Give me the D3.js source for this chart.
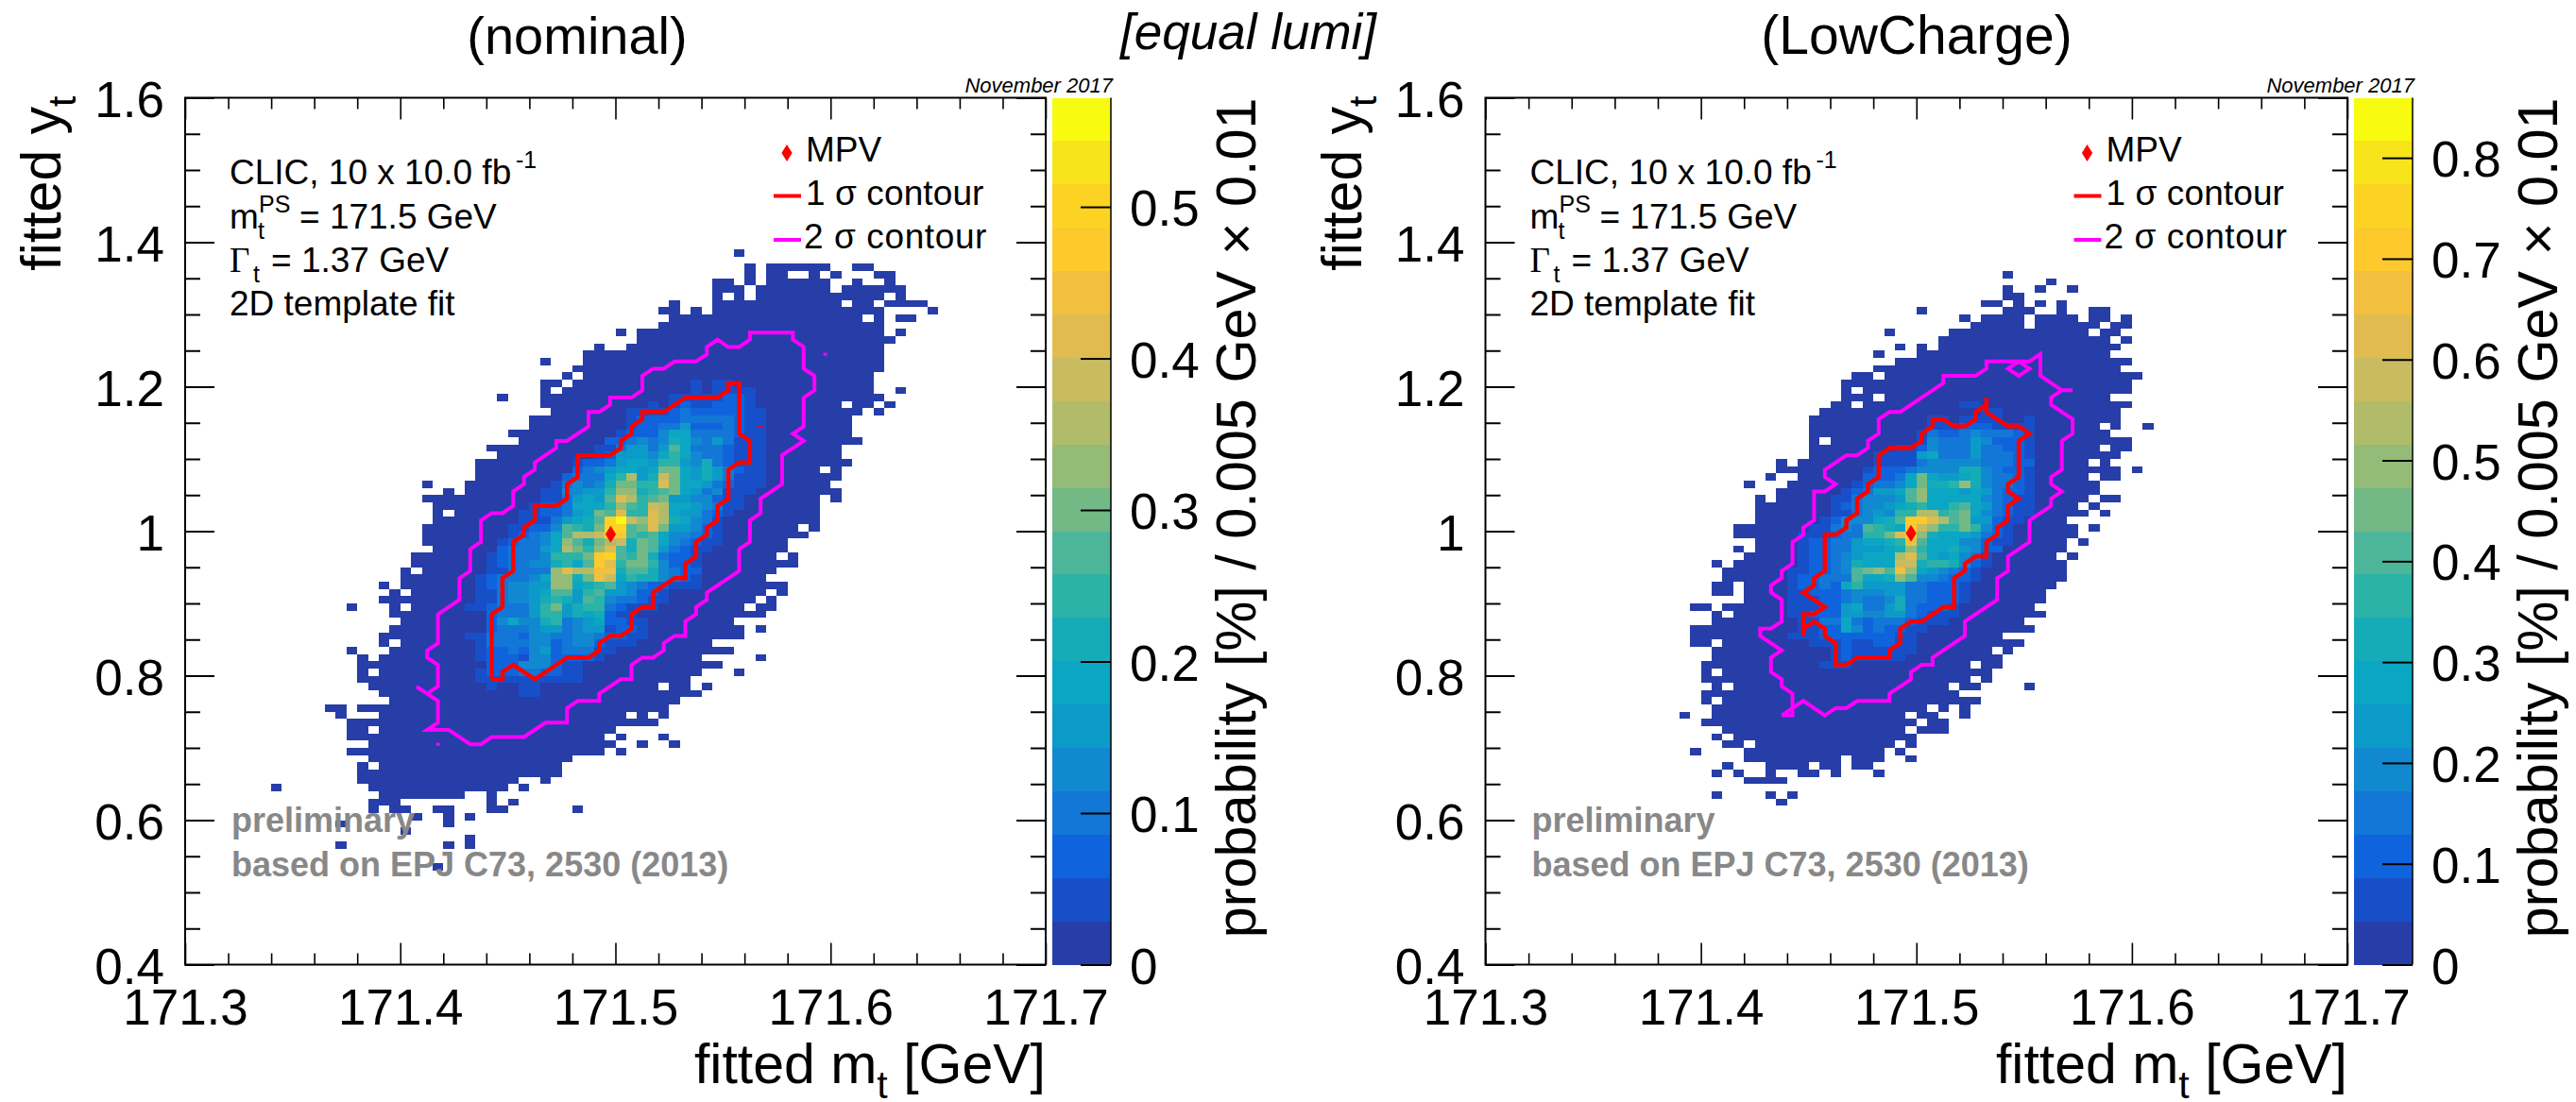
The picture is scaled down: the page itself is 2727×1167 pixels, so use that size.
<!DOCTYPE html>
<html><head><meta charset="utf-8">
<script src="https://cdn.jsdelivr.net/npm/d3@7/dist/d3.min.js"></script>
<style>
html,body{margin:0;padding:0;background:#fff}
svg{display:block}
text{font-family:"Liberation Sans",Arial,sans-serif;fill:#000}
</style></head><body>
<script>
// ---- axis values ----
const massRange=[171.3,171.7], yukawaRange=[0.4,1.6];
const massTicks=[171.3,171.4,171.5,171.6,171.7];
const massMinor=[171.32,171.34,171.36,171.38,171.42,171.44,171.46,171.48,171.52,171.54,171.56,171.58,171.62,171.64,171.66,171.68];
const yukawaTicks=[0.4,0.6,0.8,1,1.2,1.4,1.6];
const yukawaMinor=[0.45,0.5,0.55,0.65,0.7,0.75,0.85,0.9,0.95,1.05,1.1,1.15,1.25,1.3,1.35,1.45,1.5,1.55];
const binMass=0.005, binYukawa=0.01;
const zMaxNominal=0.572, zMaxLowCharge=0.8596;
const zTicksNominal=[0,0.1,0.2,0.3,0.4,0.5];
const zTicksLowCharge=[0,0.1,0.2,0.3,0.4,0.5,0.6,0.7,0.8];
const palette=["#273da7","#174fc8","#0f64dd","#1277d6","#1189d0","#0c9bc8","#0ba6c4","#15acb8","#2bb3a8","#4db59a","#72b986","#94bb77","#b1bc6a","#c9bb5f","#e0bc50","#f2c03e","#fdc92c","#fcd322","#f8e41a","#f8fb10"];
const mpvNominal=[171.4978,0.9958], mpvLowCharge=[171.4975,0.997];

// ---- histogram: "yBin:xBin-xBin,..." filled bins of the lowest colour level ----
const nominalFilled=["98:51","96:52,54-59,62-63","95:52,54-55,58,60,64-65","94:49-50,52,54-59,62,65","93:49-51,53-59,61-66","92:49,51,53-64,66","91:45,49-60,62-63,65-68","90:44-45,47,49-64,69","89:45-62,64,66-67","88:44-64","87:40,42-64,66","86:42-65","85:38,41-64","84:37-64","83:33,37-64","82:36-64","81:35,37-63","80:33-34,36-63","79:33,35-63,66","78:29,33-64","77:33-60,62-63,65","76:34-62,64","75:32-61","74:32-61","73:30-61","72:31-62","71:28-60","70:29-60","69:27-61","68:27-58,60","67:27-60","66:22,26-59","65:24,26-60","64:22-58,60","63:23-58","62:23,25-58","61:23-58","60:22-56,58","59:22-57","58:22-55","57:23-55","56:21-54,56","55:21-56","54:20,22-54","53:20-53","52:18,20-55","51:19,21-53,55","50:18-52,54","49:15,19,21-51,53-54","48:19-53","47:20-50","46:19-51,53","45:18-51","44:18,20-48","43:15,19-50","42:16,18-47,53","41:16-49","40:16,18-47,51","39:16-46","38:17-43,45-46,48","37:18-47","36:19-45","35:13-14,16-44","34:14,18-40,42,44","33:15-43","32:15-16,18-39","31:15-38,40,44","30:17-39,42,45","29:15-38,40","28:17-35","27:16,18-34","26:16-34","25:16-30,33","24:8,17-29,31","23:18-25,28","22:17-19,28,30","21:17,19-20,23-24,28-29,36","20:21,24,26","19:14,24","18:20","17:26","16:14,24,26","13:23"];
const lowChargeFilled=["95:48","94:52","93:48,51,54","92:48-49","91:46-47,49,51,53","90:40,48-50,53,56-57","89:44,46-49,51-54,56-57,59","88:45-49,51-56,58-59","87:37,43-55,57-58","86:42-57,59","85:38,40,42-58","84:36,40-57","83:38-59","82:36-58","81:34-35,37-60","80:33-59","79:33,35-59","78:33-35,37-57","77:32-33,35-59","76:31-58","75:30-58","74:30-56,58,61","73:30-57","72:30,32-59","71:30-56,58-59","70:30-58","69:27,29-55,57","68:27-58,60","67:26,29-55,57-58","66:24,28-56","65:27-56","64:25,27-55,57-58","63:25-54,56","62:25-55,57","61:25-53","60:23-54,56","59:23-54","58:25-53,55","57:23,25-53","56:24-52,54","55:21,23-53","54:22-53","53:22-53","52:21-22,24-52","51:21-22,24-51","50:24-51","49:19-20,22-50","48:21,23-51","47:21-49","46:19-50","45:19-47","44:19-20,22-49","43:21-46,48","42:21-47","41:20-44,46-47","40:20,22-46","39:20-44,46","38:21,23-42,44-45,50","37:20-43","36:20,22-45","35:21-40,42,44","34:18,21-38,40-41,44","33:20-39,41-42","32:22-38,40-42","31:21,23-39","30:22-23,25-37,39","29:19,24-36,38","28:24-32,34-36,39","27:22,26-29,31-32,34-35","26:21,23,26,29-30,32,36","25:24-27","23:21,26,28","22:27"];

// ---- colour level per bin: "yBin:firstXBin:levels" (base-36 digit per bin) ----
const nominalLevels=["80:47:1011","79:47:101111","78:45:11111221","77:43:1012112221","76:41:1111232222211","75:41:1222233333211","74:41:1223352223211","73:40:12224663333211","72:39:223434764353111","71:38:1135535963332111","70:38:1255546864332111","69:36:122356658854732111","68:36:23456656aa65753211","67:35:233368c57da65753111","66:34:134347aa88ea66532111","65:33:1144558bb789a6534111","64:33:1135659ec89a5544211","63:32:12236668b98dc6654311","62:31:1122356a9e88ec655321","61:31:11135679hjdbec76431","60:30:11224987ahh9aea55421","59:30:123469ccdhg989644321","58:29:123346b97acd7a9643211","57:29:233356ca8be97a953211","56:28:123334888agh98a73221","55:28:1233447869ge8aa84221","54:28:113333beccff79974322","53:27:1233346bb7afd68774321","52:27:1234455bb678954322111","51:27:113445699589554221","50:27:113445787598433211","49:26:11233358a578832111","48:28:23335885767211","47:28:246447834562211","46:28:233345534551221","45:26:11333244334432211","44:27:133334423442111","43:27:1223245233311","42:27:122214422221","41:28:222444211","40:27:1222332211","39:27:1111111111","38:28:10011","37:31:11"];
const lowChargeLevels=["77:44:11","76:46:11","75:41:1101111001","74:41:1112221111","73:40:13223433321","72:40:14333542221","71:38:1124333533221","70:36:111156333533321","69:36:111134444433322","68:35:1222344447743221","67:35:22236a6556743321","66:34:123346a778b743321","65:33:1235569b6665653221","64:32:11344459b6666643211","63:32:1234456786689653211","62:32:11345488cc89a643211","61:31:12444679ggec9a55211","60:30:113439876gdb88a8421","59:29:11123388aehb76665321","58:29:1223356678f966644211","57:29:1223355567b86675422","56:29:122345666ce9656431","55:29:122347666dd7887421","54:28:1122349ab9fb654321","53:28:1223339667b9443221","52:28:12232685555332221","51:28:11222344455332221","50:28:11122343347332221","49:28:1112256335732221","48:28:1122255445532111","47:29:11336323332111","46:29:112264232211","45:28:111222222211","44:30:1112112211","43:32:12111111","42:32:1211111","41:31:111"];

// ---- contours, as bin indices [xBin,yBin] (vertices sit on bin centres) ----
const nominalOneSigma=[[28,39],[28,48],[29,49],[29,53],[30,54],[30,58],[31,59],[31,60],[32,61],[32,63],[34,63],[35,64],[35,66],[36,67],[36,70],[39,70],[40,71],[40,72],[41,73],[41,74],[42,75],[42,76],[44,76],[46,78],[49,78],[50,79],[50,80],[51,80],[51,73],[52,72],[52,69],[51,69],[50,68],[50,64],[49,63],[49,61],[48,60],[48,59],[47,58],[47,56],[46,55],[46,53],[45,53],[43,51],[43,49],[42,49],[41,48],[41,46],[40,45],[39,45],[38,44],[38,43],[37,42],[35,42],[32,39],[30,41],[29,40],[29,39],[28,39]];
const nominalTwoSigma=[[21,38],[22,37],[23,36],[23,33],[22,32],[24,32],[26,30],[27,30],[28,31],[31,31],[33,33],[35,33],[35,35],[36,36],[38,36],[38,37],[40,39],[41,39],[41,41],[42,42],[43,42],[44,43],[44,44],[45,45],[46,45],[46,47],[47,48],[47,49],[48,50],[48,51],[51,54],[51,57],[52,58],[52,61],[53,62],[53,64],[55,66],[55,70],[57,72],[56,73],[57,74],[57,78],[58,79],[58,81],[57,82],[57,85],[56,86],[56,87],[52,87],[52,86],[51,85],[50,85],[49,86],[48,85],[48,84],[47,83],[45,83],[44,82],[43,82],[42,81],[42,79],[41,78],[39,78],[39,77],[38,76],[37,76],[37,74],[35,72],[34,72],[34,71],[32,69],[32,68],[31,67],[31,66],[30,65],[30,63],[29,62],[28,62],[27,61],[27,58],[26,57],[26,54],[25,53],[25,50],[23,48],[23,44],[22,43],[22,42],[23,41],[23,38],[22,37]];
const nominalRedSpeck=[[53,73.8],[53,74.2]];
const nominalPinkSpecks=[[[23,29.8],[23,30.2]],[[59,83.8],[59,84.2]]];
const lowChargeOneSigma=[[29,45],[29,48],[30,48],[31,49],[29,51],[30,52],[30,53],[31,54],[31,59],[32,59],[33,60],[33,61],[34,62],[34,64],[35,65],[35,66],[36,67],[36,70],[37,71],[39,71],[40,72],[40,73],[41,74],[41,75],[42,75],[43,74],[44,74],[45,75],[45,76],[46,77],[46,78],[46,76],[48,74],[49,74],[50,73],[49,72],[49,67],[48,66],[48,65],[49,64],[48,63],[48,61],[47,60],[47,59],[46,58],[46,56],[45,56],[44,55],[44,54],[43,53],[43,49],[42,49],[40,47],[39,47],[38,46],[38,44],[37,43],[37,42],[34,42],[33,41],[32,41],[32,44],[31,45],[31,46],[30,47],[29,46],[29,45]];
const lowChargeTwoSigma=[[27,34],[28,34],[28,37],[27,38],[27,39],[26,40],[26,42],[27,43],[25,45],[25,46],[26,46],[27,47],[27,50],[26,51],[26,52],[27,53],[27,54],[28,55],[28,58],[29,59],[29,60],[30,61],[30,65],[31,65],[32,66],[31,67],[31,68],[33,70],[34,70],[35,71],[35,72],[36,73],[36,75],[37,76],[38,76],[42,80],[42,81],[45,81],[46,82],[46,83],[50,83],[51,84],[51,81],[53,79],[54,79],[53,79],[52,78],[52,77],[54,75],[54,73],[53,72],[53,68],[52,67],[52,66],[53,65],[52,64],[52,63],[50,61],[50,58],[48,56],[48,54],[47,53],[47,50],[44,47],[44,45],[41,42],[41,41],[40,41],[39,40],[39,39],[37,37],[37,36],[34,36],[33,35],[32,35],[31,34],[29,36],[27,34]];
const lowChargeTwoSigmaIsland=[[49,83],[50,82],[49,81],[48,82],[49,83]];

// ---- text ----
const infoLines=["CLIC, 10 x 10.0 fb","= 171.5 GeV","= 1.37 GeV","2D template fit"];
const legendLabels=["MPV","1 σ contour","2 σ contour"];
const noteLines=["preliminary","based on EPJ C73, 2530 (2013)"];
const zTitle="probability [%] / 0.005 GeV × 0.01";

const W=2727,H=1167;
const svg=d3.select("body").append("svg").attr("width",W).attr("height",H).attr("viewBox",`0 0 ${W} ${H}`);

function expandCells(filled,levels){
  const m=new Map();
  filled.forEach(r=>{
    const [j,spec]=r.split(":");
    spec.split(",").forEach(p=>{
      const [a,b]=p.split("-").map(Number);
      for(let i=a;i<=(b===undefined?a:b);i++) m.set(i+"_"+j,{i,j:+j,level:0});
    });
  });
  levels.forEach(r=>{
    const [j,start,s]=r.split(":");
    [...s].forEach((c,k)=>{
      const lv=parseInt(c,36); const i=+start+k;
      if(lv>0) m.set(i+"_"+j,{i,j:+j,level:lv});
    });
  });
  return [...m.values()];
}

function panel(cfg){
  const x0=cfg.left, x1=cfg.left+cfg.width, y0=1021.5, y1=103.5;
  const x=d3.scaleLinear().domain(massRange).range([x0,x1]);
  const y=d3.scaleLinear().domain(yukawaRange).range([y0,y1]);
  const z=d3.scaleLinear().domain([0,cfg.zMax]).range([y0,y1]);
  const g=svg.append("g");
  const bm=i=>massRange[0]+binMass*i, by=j=>yukawaRange[0]+binYukawa*j;

  // cells
  g.append("g").attr("shape-rendering","crispEdges").selectAll("rect")
    .data(expandCells(cfg.filled,cfg.levels)).join("rect")
    .attr("x",d=>x(bm(d.i))).attr("width",d=>x(bm(d.i+1))-x(bm(d.i)))
    .attr("y",d=>y(by(d.j+1))).attr("height",d=>y(by(d.j))-y(by(d.j+1)))
    .attr("fill",d=>palette[d.level]);

  // contours
  const line=d3.line().x(d=>x(bm(d[0]+0.5))).y(d=>y(by(d[1]+0.5)));
  const draw=(pts,col)=>g.append("path").attr("d",line(pts)).attr("fill","none").attr("stroke",col).attr("stroke-width",col==="#ff0000"?4.5:4).attr("stroke-linejoin","miter");
  cfg.two.forEach(c=>draw(c,"#ff00ff"));
  cfg.one.forEach(c=>draw(c,"#ff0000"));

  // MPV marker
  const dia="M0,-9L5.6,0L0,9L-5.6,0Z";
  g.append("path").attr("d",dia).attr("fill","#ff0000").attr("transform",`translate(${x(cfg.mpv[0])},${y(cfg.mpv[1])})`);

  // frame
  g.append("rect").attr("x",x0).attr("y",y1).attr("width",x1-x0).attr("height",y0-y1).attr("fill","none").attr("stroke","#000").attr("stroke-width",2);

  // axes
  const clean=a=>{a.select(".domain").remove(); a.selectAll("line").attr("stroke","#000");};
  const mkAxis=(gen,tx,ty,sw)=>{const a=g.append("g").attr("transform",`translate(${tx},${ty})`).call(gen);clean(a);a.selectAll("line").attr("stroke-width",sw);return a;};
  const fmtM=d3.format(".1f");
  const fmtY=d=>d===1?"1":d3.format(".1f")(d);
  const bot=mkAxis(d3.axisBottom(x).tickValues(massTicks).tickSize(-23).tickFormat(fmtM),0,y0,1.6);
  bot.selectAll("text").attr("y",63.5).attr("dy",0).style("font-size","53px").style("font-family","'Liberation Sans'");
  mkAxis(d3.axisBottom(x).tickValues(massMinor).tickSize(-12).tickFormat(""),0,y0,1.6);
  mkAxis(d3.axisTop(x).tickValues(massTicks).tickSize(-23).tickFormat(""),0,y1,1.6);
  mkAxis(d3.axisTop(x).tickValues(massMinor).tickSize(-12).tickFormat(""),0,y1,1.6);
  const lft=mkAxis(d3.axisLeft(y).tickValues(yukawaTicks).tickSize(-31).tickPadding(22).tickFormat(fmtY),x0,0,2);
  lft.selectAll("text").attr("dy","0.368em").style("font-size","53px").style("font-family","'Liberation Sans'");
  mkAxis(d3.axisLeft(y).tickValues(yukawaMinor).tickSize(-16).tickFormat(""),x0,0,2);
  mkAxis(d3.axisRight(y).tickValues(yukawaTicks).tickSize(-31).tickFormat(""),x1,0,2);
  mkAxis(d3.axisRight(y).tickValues(yukawaMinor).tickSize(-16).tickFormat(""),x1,0,2);

  // colour bar
  const cbL=x1+7, cbR=x1+69;
  g.append("g").attr("shape-rendering","crispEdges").selectAll("rect").data(palette).join("rect")
    .attr("x",cbL).attr("width",cbR-cbL)
    .attr("y",(d,k)=>z((k+1)*cfg.zMax/palette.length))
    .attr("height",(d,k)=>z(k*cfg.zMax/palette.length)-z((k+1)*cfg.zMax/palette.length))
    .attr("fill",d=>d);
  const cax=mkAxis(d3.axisRight(z).tickValues(cfg.zTicks).tickSize(-32).tickPadding(20).tickFormat(d=>d===0?"0":d3.format(".1f")(d)),cbR,0,2);
  cax.selectAll("text").attr("dy","0.368em").style("font-size","53px").style("font-family","'Liberation Sans'");
  g.append("line").attr("x1",cbR).attr("x2",cbR).attr("y1",y1).attr("y2",y0).attr("stroke","#000").attr("stroke-width",1.5);

  // axis titles
  const xt=g.append("text").attr("x",x1).attr("y",1147).attr("text-anchor","end").style("font-size","59px");
  xt.append("tspan").text("fitted m");
  xt.append("tspan").attr("dy",16).style("font-size","41px").text("t");
  xt.append("tspan").attr("dy",-16).text(" [GeV]");
  const yt=g.append("text").attr("transform",`translate(${x0-132},${y1-2}) rotate(-90)`).attr("text-anchor","end").style("font-size","59px");
  yt.append("tspan").text("fitted y");
  yt.append("tspan").attr("dy",16).style("font-size","41px").text("t");
  g.append("text").attr("transform",`translate(${x1+222},${y1}) rotate(-90)`).attr("text-anchor","end").style("font-size","59.4px").text(zTitle);

  // date
  g.append("text").attr("x",cbR+2).attr("y",98).attr("text-anchor","end").style("font-size","22px").style("font-style","italic").text("November 2017");

  // info text
  const tx=x0+47, fs="37px", sub="25px";
  const T=(s,xp,yp,size,extra)=>{const e=g.append("text").attr("x",xp).attr("y",yp).style("font-size",size).text(s);if(extra)extra(e);return e;};
  T(infoLines[0],tx,195,fs);
  T("-1",tx+303,178,sub);
  T("m",tx,242,fs);
  T("t",tx+30,253,sub);
  T("PS",tx+31,225,sub);
  T(infoLines[1],tx+74,242,fs);
  T("Γ",tx,288,fs,e=>e.style("font-family","'Liberation Serif'"));
  T("t",tx+25,299,sub);
  T(infoLines[2],tx+44,288,fs);
  T(infoLines[3],tx,334,fs);

  // legend
  const lx=x0+657;
  g.append("path").attr("d",dia).attr("fill","#ff0000").attr("transform",`translate(${x0+637},162)`);
  g.append("line").attr("x1",x0+623).attr("x2",x0+652).attr("y1",207.5).attr("y2",207.5).attr("stroke","#ff0000").attr("stroke-width",4);
  g.append("line").attr("x1",x0+623).attr("x2",x0+652).attr("y1",254).attr("y2",254).attr("stroke","#ff00ff").attr("stroke-width",4);
  g.append("text").attr("x",lx).attr("y",171).style("font-size",fs).text(legendLabels[0]);
  g.append("text").attr("x",lx).attr("y",217).style("font-size",fs).style("letter-spacing","0.1px").text(legendLabels[1]);
  g.append("text").attr("x",lx-2).attr("y",263).style("font-size",fs).style("letter-spacing","0.6px").text(legendLabels[2]);

  // note
  noteLines.forEach((s,k)=>g.append("text").attr("x",x0+49).attr("y",881+47*k).style("font-size","36px").style("font-weight","bold").style("fill","#888888").text(s));
}

panel({left:196,width:911,zMax:zMaxNominal,zTicks:zTicksNominal,filled:nominalFilled,levels:nominalLevels,
  one:[nominalOneSigma,nominalRedSpeck],two:[nominalTwoSigma,...nominalPinkSpecks],mpv:mpvNominal});
panel({left:1572.5,width:912.5,zMax:zMaxLowCharge,zTicks:zTicksLowCharge,filled:lowChargeFilled,levels:lowChargeLevels,
  one:[lowChargeOneSigma],two:[lowChargeTwoSigma,lowChargeTwoSigmaIsland],mpv:mpvLowCharge});

// page titles
svg.append("text").attr("x",611).attr("y",57).attr("text-anchor","middle").style("font-size","56px").text("(nominal)");
svg.append("text").attr("x",2029).attr("y",57).attr("text-anchor","middle").style("font-size","57px").text("(LowCharge)");
svg.append("text").attr("x",1186).attr("y",52).style("font-size","53px").style("font-style","italic").text("[equal lumi]");
</script>
</body></html>
